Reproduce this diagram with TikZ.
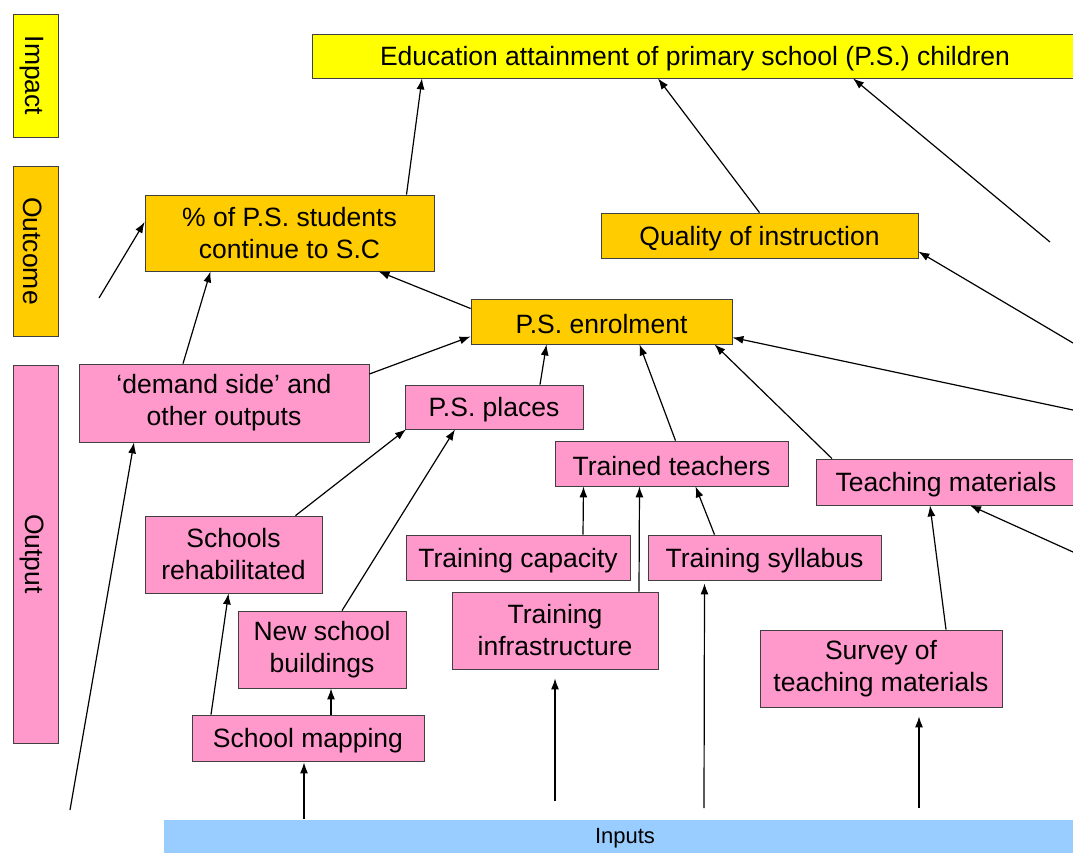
\documentclass[tikz,border=0pt]{standalone}
\usepackage{fontspec}
\setmainfont{Liberation Sans}
\usetikzlibrary{arrows.meta}
\definecolor{impyellow}{HTML}{FFFF00}
\definecolor{outcorange}{HTML}{FFCC00}
\definecolor{outppink}{HTML}{FF99CC}
\definecolor{inpblue}{HTML}{99CCFF}
\begin{document}
\begin{tikzpicture}
  [x=1pt,y=-1pt,>={Latex[length=11pt,width=8pt]},line width=1.2pt,
   box/.style={draw=black!75,line width=0.8pt,inner sep=0pt,align=center,
     font=\fontsize{26.5}{32}\selectfont,execute at begin node={\rule{0pt}{25pt}}},
   imp/.style={box,fill=impyellow},
   outc/.style={box,fill=outcorange},
   outp/.style={box,fill=outppink},
   level/.style={rotate=-90,minimum height=45pt}]
  \useasboundingbox (0,0) rectangle (1073,852);

  % levels
  \node (limpact)[imp,level,minimum width=123pt] at (35.5,75.5) {Impact};
  \node (loutcome)[outc,level,minimum width=170pt] at (35.5,251) {Outcome};
  \node (loutput)[outp,level,minimum width=378pt] at (35.5,554) {Output};

  % impact and outcomes
  \node (impact)[imp,minimum width=766pt,minimum height=44pt] at (695,56) {Education attainment of primary school (P.S.) children};
  \node (pct)[outc,minimum width=289pt,minimum height=76pt] at (289.5,233) {\% of P.S. students\\continue to S.C};
  \node (quality)[outc,minimum width=317pt,minimum height=45pt] at (759.5,235.5) {Quality of instruction};
  \node (enrol)[outc,minimum width=261pt,minimum height=45pt] at (601.5,321.5) {P.S. enrolment};

  % outputs
  \node (demand)[outp,minimum width=290pt,minimum height=78pt] at (224,403) {`demand side' and\\other outputs};
  \node (places)[outp,minimum width=178pt,minimum height=44pt] at (494,407) {P.S. places};
  \node (trained)[outp,minimum width=233pt,minimum height=45pt] at (671.5,463.5) {Trained teachers};
  \node (materials)[outp,minimum width=260pt,minimum height=46pt] at (946,482) {Teaching materials};
  \node (rehab)[outp,minimum width=177pt,minimum height=77pt] at (233.5,554.5) {Schools\\rehabilitated};
  \node (capacity)[outp,minimum width=224pt,minimum height=45pt] at (518,557.5) {Training capacity};
  \node (syllabus)[outp,minimum width=233pt,minimum height=45pt] at (764.5,557.5) {Training syllabus};
  \node (newschool)[outp,minimum width=168pt,minimum height=77pt] at (322,649.5) {New school\\buildings};
  \node (infra)[outp,minimum width=206pt,minimum height=77pt] at (555,630.5) {Training\\infrastructure};
  \node (survey)[outp,minimum width=242pt,minimum height=77pt] at (881,668.5) {Survey of\\teaching materials};
  \node (mapping)[outp,minimum width=232pt,minimum height=46pt] at (308,738) {School mapping};

  % inputs
  \node (inputs)[fill=inpblue,inner sep=0pt,minimum width=922pt,minimum height=36pt,
    font=\fontsize{22}{26}\selectfont] at (625,838) {Inputs};

  % loose ends
  \coordinate (f1) at (1050,242);
  \coordinate (f2) at (99,298);
  \coordinate (f3) at (1073,410);
  \coordinate (f4) at (1073,343);
  \coordinate (f5) at (70,810);
  \coordinate (f6) at (1073,552);
  \coordinate (f7) at (304,819);
  \coordinate (f8) at (555,801);
  \coordinate (f9) at (704,808);
  \coordinate (f10) at (919,808);

  \draw[->] ([xshift=117pt]pct.north) -- ([xshift=-273pt]impact.south);
  \draw[->] (quality.north) -- ([xshift=-37pt]impact.south);
  \draw[->] (f1) -- ([xshift=158pt]impact.south);
  \draw[->] (f2) -- ([yshift=11pt]pct.west);
  \draw[->] ([xshift=-41pt]demand.north) -- ([xshift=-79pt]pct.south);
  \draw[->] ([yshift=13pt]enrol.west) -- ([xshift=89pt]pct.south);
  \draw[->] ([yshift=29pt]demand.east) -- ([yshift=-15pt]enrol.west);
  \draw[->] ([xshift=46pt]places.north) -- ([xshift=-55pt]enrol.south);
  \draw[->] ([xshift=4pt]trained.north) -- ([xshift=38pt]enrol.south);
  \draw[->] ([xshift=-114pt]materials.north) -- ([xshift=113pt]enrol.south);
  \draw[->] (f3) -- ([yshift=-16pt]enrol.east);
  \draw[->] (f4) -- ([yshift=-16pt]quality.east);
  \draw[->] (f5) -- ([xshift=-90pt]demand.south);
  \draw[->] ([xshift=62pt]rehab.north) -- ([xshift=-88pt]places.south);
  \draw[->] ([xshift=20pt]newschool.north) -- ([xshift=-39pt]places.south);
  \draw[->] ([xshift=65pt]capacity.north) -- ([xshift=-88pt]trained.south);
  \draw[->] ([xshift=84pt]infra.north) -- ([xshift=-32pt]trained.south);
  \draw[->] ([xshift=-50pt]syllabus.north) -- ([xshift=24pt]trained.south);
  \draw[->] ([xshift=65pt]survey.north) -- ([xshift=-16pt]materials.south);
  \draw[->] (f6) -- ([xshift=24pt]materials.south);
  \draw[->] ([xshift=-97pt]mapping.north) -- ([xshift=-5pt]rehab.south);
  \draw[->] ([xshift=23pt]mapping.north) -- ([xshift=9pt]newschool.south);
  \draw[->] (f7) -- ([xshift=-4pt,yshift=-1pt]mapping.south);
  \draw[->] (f8) -- ([yshift=-9pt]infra.south);
  \draw[->] (f9) -- ([xshift=-60pt,yshift=-3pt]syllabus.south);
  \draw[->] (f10) -- ([xshift=38pt,yshift=-9pt]survey.south);

\end{tikzpicture}
\end{document}
